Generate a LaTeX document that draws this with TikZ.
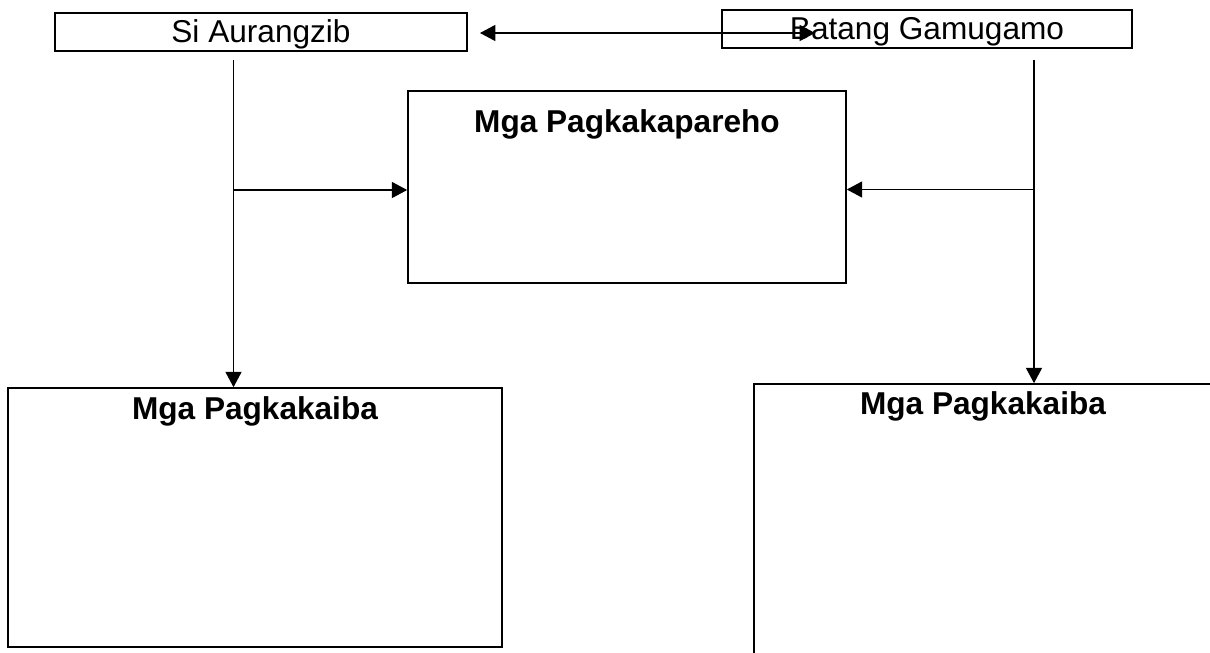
\documentclass[tikz,border=0pt]{standalone}
\usepackage{fontspec}
\setmainfont{Liberation Sans}
\usetikzlibrary{arrows.meta}
\tikzset{
  boxS/.style={draw, line width=1.2pt, rectangle, inner sep=0pt, font=\fontsize{23.7}{28}\selectfont},
  topbox/.style={boxS, text height=15.75pt, text depth=0pt, minimum height=28.5pt},
  titleT/.style={anchor=base, inner sep=0pt, font=\fontsize{23.7}{28}\selectfont\bfseries},
  conn/.style={line width=1pt},
  tip/.style={-{Triangle[length=11.5pt,width=12pt]}},
}
\begin{document}
\begin{tikzpicture}[x=0.75pt,y=-0.75pt]
\useasboundingbox (0,0) rectangle (1210,653);
\clip (0,0) rectangle (1210,653);
% boxes
\node[topbox, minimum width=309pt] (aur) at (261,32) {Si Aurangzib};
\node[topbox, minimum width=307.5pt] (bat) at (927,29) {Batang Gamugamo};
\node[boxS, minimum width=328.5pt, minimum height=144pt] (sim) at (627,187) {};
\node[boxS, minimum width=370.5pt, minimum height=194.25pt] (difL) at (255,517.5) {};
\node[boxS, minimum width=379.5pt, minimum height=237pt] (difR) at (1007,542) {};
% titles
\node[titleT] (simT) at (627,132) {Mga Pagkakapareho};
\node[titleT] (difLT) at (255,419) {Mga Pagkakaiba};
\node[titleT] (difRT) at (983,414) {Mga Pagkakaiba};
% connector points
\coordinate (dblL) at (480,33);
\coordinate (dblR) at (815,33);
\coordinate (vL) at (233.5,60);
\coordinate (jL) at (233.5,190);
\coordinate (vR) at (1034,60);
\coordinate (jR) at (1034,189.5);
% connectors
\draw[conn, {Triangle[length=11.5pt,width=12pt]}-{Triangle[length=11.5pt,width=12pt]}] (dblL) -- (dblR);
\draw[conn, tip] (vL) -- (vL |- difL.north);
\draw[conn, tip] (jL) -- (jL -| sim.west);
\draw[conn, tip] (vR) -- (vR |- difR.north);
\draw[conn, tip] (jR) -- (jR -| sim.east);
\end{tikzpicture}
\end{document}
